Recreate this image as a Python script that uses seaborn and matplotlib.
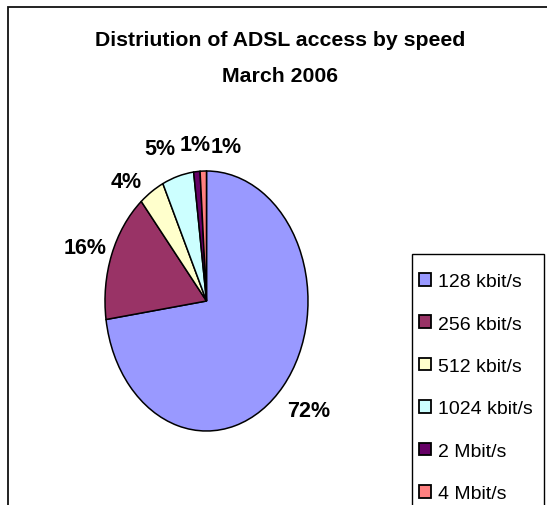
import matplotlib
matplotlib.use("Agg")
import matplotlib.pyplot as plt
import seaborn as sns
import numpy as np
from matplotlib.patches import Rectangle

# ---- data ----
categories = ["128 kbit/s", "256 kbit/s", "512 kbit/s", "1024 kbit/s", "2 Mbit/s", "4 Mbit/s"]
shares = [72, 16, 4, 5, 1, 1]
colors = ["#9999FF", "#993366", "#FFFFCC", "#CCFFFF", "#660066", "#FF8080"]
title_lines = ["Distriution of ADSL access by speed", "March 2006"]

# label layout (angular nudge in degrees, radial distance)
label_shift = [1, 2, 8, 5, 0, -11]
label_dist = [1.31, 1.26, 1.21, 1.26, 1.21, 1.20]

sns.set_theme(style="white")
plt.rcParams["font.family"] = ["Liberation Sans", "DejaVu Sans"]
plt.rcParams["text.color"] = "black"

W, H = 547, 506
fig = plt.figure(figsize=(W / 100, H / 100), dpi=100)
fig.patch.set_facecolor("white")

# outer chart border (only left/top visible in crop)
fig.patches.append(Rectangle((7.5 / W, -0.1), 1.2, 1 - 7.5 / H + 0.1,
                             transform=fig.transFigure, fill=False,
                             edgecolor="#111111", linewidth=1.3, zorder=0))
# legend box (bottom runs past the crop)
fig.patches.append(Rectangle((412 / W, -0.1), (544 - 412) / W, 0.1 + 1 - 255 / H,
                             transform=fig.transFigure, fill=False,
                             edgecolor="black", linewidth=1.0, zorder=1))

cx, cy = 206.5, 302.0
rx, ry = 101.5, 130.0
span = 1.5
ax = fig.add_axes([(cx - span * rx) / W, (H - cy - span * ry) / H,
                   2 * span * rx / W, 2 * span * ry / H])
wedges, _ = ax.pie(shares, colors=colors, startangle=90, counterclock=False,
                   wedgeprops=dict(edgecolor="black", linewidth=1.1),
                   frame=False)
ax.set_aspect("auto")
ax.set_xlim(-span, span)
ax.set_ylim(-span, span)
ax.axis("off")

for w, val, sh, d in zip(wedges, shares, label_shift, label_dist):
    ang = np.deg2rad((w.theta1 + w.theta2) / 2 + sh)
    ax.text(d * np.cos(ang), d * np.sin(ang), f"{val}%", ha="center", va="center",
            fontsize=15.5, fontweight="bold", color="black", clip_on=False)

fig.text(280 / W, 1 - 40.5 / H, title_lines[0], ha="center", va="center",
         fontsize=15.3, fontweight="bold", color="black")
fig.text(280 / W, 1 - 76.5 / H, title_lines[1], ha="center", va="center",
         fontsize=15.3, fontweight="bold", color="black")

leg = fig.legend(wedges, categories, loc="upper left",
                 bbox_to_anchor=(419 / W, 1 - 274 / H), bbox_transform=fig.transFigure,
                 borderaxespad=0, frameon=False, borderpad=0,
                 fontsize=14, labelspacing=1.3, handlelength=0.62, handleheight=0.62,
                 handletextpad=0.36, labelcolor="black")
for h in leg.legend_handles:
    h.set_edgecolor("black")
    h.set_linewidth(1.3)

fig.savefig("out.png", dpi=100)
